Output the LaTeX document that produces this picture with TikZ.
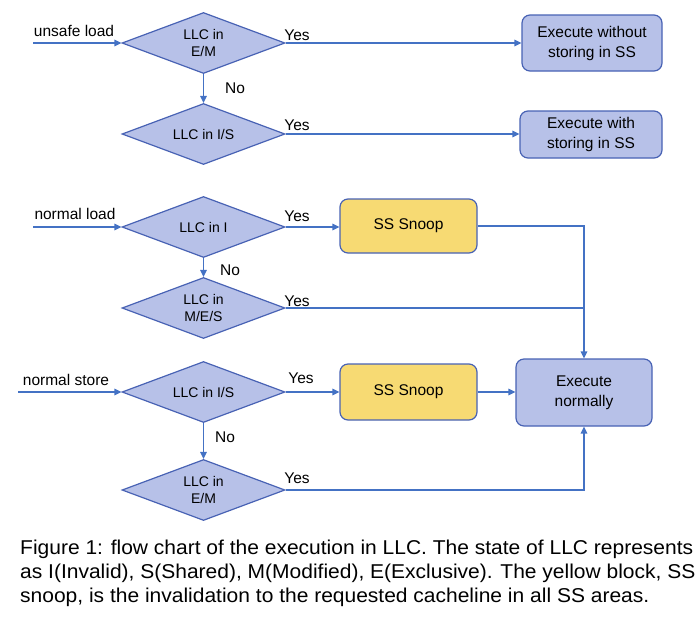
\documentclass[tikz,border=0pt]{standalone}
\usepackage{fontspec}
\setmainfont{Liberation Sans}
\usetikzlibrary{shapes.geometric,arrows.meta}
\definecolor{lblue}{HTML}{4472C4}
\definecolor{dfill}{HTML}{B7C1E8}
\definecolor{dedge}{HTML}{4862B4}
\definecolor{yfill}{HTML}{F7DA73}
\newsavebox{\capbox}
\begin{document}
\sbox{\capbox}{\fontsize{20}{24}\selectfont Figure 1: flow chart of the execution in LLC. The state of LLC represents}%
\pgfmathsetmacro{\capscale}{673/\wd\capbox}%
\begin{tikzpicture}[x=1pt,y=-1pt,
  dec/.style={diamond, draw=dedge, fill=dfill, line width=1.2pt, minimum width=163pt, minimum height=61pt, aspect=2.67, inner sep=0pt, align=center, font=\fontsize{14}{17}\selectfont},
  bluebox/.style={draw=dedge, fill=dfill, line width=1.2pt, rounded corners=8pt, align=center, inner sep=0pt, font=\fontsize{15.5}{20}\selectfont},
  snoopbox/.style={draw=dedge, fill=yfill, line width=1.2pt, rounded corners=8pt, align=center, inner sep=0pt, minimum width=137pt, font=\fontsize{15.5}{20}\selectfont},
  conn/.style={draw=lblue, line width=1.4pt},
  arr/.style={conn, -{Triangle[length=7pt,width=6.5pt]}},
  lbl/.style={inner sep=0pt, font=\fontsize{15.5}{18}\selectfont},
  captext/.style={anchor=base west, inner sep=0pt, font=\fontsize{20}{24}\selectfont}]
\useasboundingbox (0,0) rectangle (700,616);
% decisions
\node[dec] (d1) at (203.5,43) {LLC in\\E/M};
\node[dec] (d2) at (203.5,134) {LLC in I/S};
\node[dec] (d3) at (203.5,227) {LLC in I};
\node[dec] (d4) at (203.5,308) {LLC in\\M/E/S};
\node[dec] (d5) at (203.5,392) {LLC in I/S};
\node[dec] (d6) at (203.5,490) {LLC in\\E/M};
% boxes
\node[bluebox, minimum width=140pt, minimum height=56pt] (e1) at (592,43) {Execute without\\storing in SS};
\node[bluebox, minimum width=142pt, minimum height=47pt] (e2) at (591,134.5) {Execute with\\storing in SS};
\node[snoopbox, minimum height=54pt] (s1) at (408.5,226) {SS Snoop};
\node[snoopbox, minimum height=56pt] (s2) at (408.5,392) {SS Snoop};
\node[bluebox, minimum width=136pt, minimum height=67pt] (ex) at (584,392.5) {Execute\\normally};
% inputs
\coordinate (in1) at (33,43);
\coordinate (in2) at (33,227);
\coordinate (in3) at (18,392);
\node[lbl] (t1) at (74,31) {unsafe load};
\node[lbl] (t2) at (75,214) {normal load};
\node[lbl] (t3) at (66,380) {normal store};
% connectors
\draw[arr] (in1) -- (d1.west);
\draw[arr] (in2) -- (d3.west);
\draw[arr] (in3) -- (d5.west);
\draw[arr] (d1.east) -- (e1.west |- d1.east);
\draw[arr] (d1.south) -- (d2.north);
\draw[arr] (d2.east) -- (e2.west |- d2.east);
\draw[arr] (d3.east) -- (s1.west |- d3.east);
\draw[arr] (d3.south) -- (d4.north);
\draw[arr] (s1.east) -| (ex.north);
\draw[conn] (d4.east) -- (d4.east -| ex.north);
\draw[arr] (d5.east) -- (s2.west);
\draw[arr] (d5.south) -- (d6.north);
\draw[arr] (s2.east) -- (ex.west |- s2.east);
\draw[arr] (d6.east) -| (ex.south);
% labels
\node[lbl] (y1) at (297,35) {Yes};
\node[lbl] (y2) at (297,125) {Yes};
\node[lbl] (y3) at (297,216) {Yes};
\node[lbl] (y4) at (297,301) {Yes};
\node[lbl] (y5) at (301,378) {Yes};
\node[lbl] (y6) at (297,478) {Yes};
\node[lbl] (n1) at (235,88) {No};
\node[lbl] (n2) at (230,270) {No};
\node[lbl] (n3) at (225,437) {No};
% caption
\node[captext] (c1) at (20,554) {\scalebox{\capscale}[1]{Figure 1: flow chart of the execution in LLC. The state of LLC represents}};
\node[captext] (c2) at (20,578) {\scalebox{\capscale}[1]{as I(Invalid), S(Shared), M(Modified), E(Exclusive). The yellow block, SS}};
\node[captext] (c3) at (20,602) {\scalebox{\capscale}[1]{snoop, is the invalidation to the requested cacheline in all SS areas.}};
\end{tikzpicture}
\end{document}
